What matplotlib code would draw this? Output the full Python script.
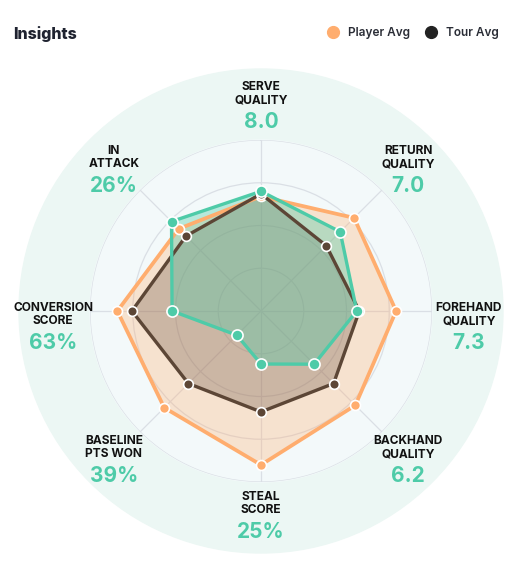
import numpy as np
import matplotlib.pyplot as plt
from matplotlib.patches import Circle
from matplotlib.lines import Line2D

categories = ["SERVE\nQUALITY", "RETURN\nQUALITY", "FOREHAND\nQUALITY", "BACKHAND\nQUALITY",
              "STEAL\nSCORE", "BASELINE\nPTS WON", "CONVERSION\nSCORE", "IN\nATTACK"]
value_labels = ["8.0", "7.0", "7.3", "6.2", "25%", "39%", "63%", "26%"]
player_avg = [67, 77, 79, 78, 90, 80, 84, 68]
tour_avg = [68.5, 54, 57.5, 60, 59, 60, 75.5, 62]
athlete = [70, 65.5, 56, 44, 31, 20, 52, 74]

ORANGE = "#ffad6e"
BROWN = "#5c4636"
TEAL = "#4ecba8"
plt.rcParams['font.family'] = ['Inter', 'DejaVu Sans']

W, H = 531, 586
fig = plt.figure(figsize=(W / 100, H / 100), dpi=100)
cx, cy, rad = 261, 311, 171
ax = fig.add_axes([(cx - rad) / W, (H - cy - rad) / H, 2 * rad / W, 2 * rad / H], projection='polar')
ax.set_theta_offset(np.pi / 2)
ax.set_theta_direction(-1)
ax.set_ylim(0, 100)
ax.patch.set_alpha(0)
ax.spines['polar'].set_visible(False)
ax.set_axisbelow(True)

# background discs
ax.add_patch(Circle((0.5, 0.5), 242 / 342, transform=ax.transAxes, color="#ecf7f4", zorder=-3, clip_on=False))
ax.add_patch(Circle((0.5, 0.5), 0.5, transform=ax.transAxes, color="#f3f9fa", zorder=-2, clip_on=False))

n = len(categories)
theta = np.arange(n) * 2 * np.pi / n
ax.set_xticks(theta)
ax.set_xticklabels([])
ax.set_yticks([25, 50, 75, 100])
ax.set_yticklabels([])
ax.grid(True, color="#dadfe5", lw=0.9)

th = np.append(theta, theta[0])
series = [(player_avg, ORANGE, 0.30, 2.7, 7.2),
          (tour_avg, BROWN, 0.28, 2.4, 7.0),
          (athlete, TEAL, 0.37, 2.4, 8.0)]
for vals, col, alpha, lw, ms in series:
    v = np.append(vals, vals[0])
    ax.fill(th, v, color=col, alpha=alpha, lw=0)
    ax.plot(th, v, color=col, lw=lw, solid_joinstyle='miter')
    ax.plot(theta, vals, 'o', ms=ms, mfc=col, mec='white', mew=1.2, lw=0)

# category labels
R = 208 / rad * 100
for t, name, val in zip(theta, categories, value_labels):
    nudge = -3 + 3 * np.cos(t) + 16 * np.sin(t) ** 4
    ax.annotate(name, (t, R), xytext=(0, 9.5 - nudge), textcoords='offset pixels',
                ha='center', va='center', fontsize=8.6, fontweight='bold', color="#111111",
                linespacing=1.15, annotation_clip=False)
    ax.annotate(val, (t, R), xytext=(0, -19 - nudge), textcoords='offset pixels',
                ha='center', va='center', fontsize=15, fontweight='bold', color=TEAL,
                annotation_clip=False)

fig.text(13 / W, 1 - 34 / H, "Insights", ha='left', va='center', fontsize=11.5,
         fontweight='heavy', color="#1f2330")

handles = [Line2D([], [], marker='o', ls='', ms=8.5, mfc=ORANGE, mec=ORANGE),
           Line2D([], [], marker='o', ls='', ms=8.5, mfc="#222222", mec="#222222")]
fig.legend(handles, ["Player Avg", "Tour Avg"], loc='center right', bbox_to_anchor=(509 / W, 1 - 33 / H),
           ncol=2, frameon=False, handletextpad=0.6, columnspacing=1.25, handlelength=1.2,
           prop={'size': 8.5, 'weight': 'semibold'}, labelcolor="#2a2d36")

fig.savefig("out.png", dpi=100)
